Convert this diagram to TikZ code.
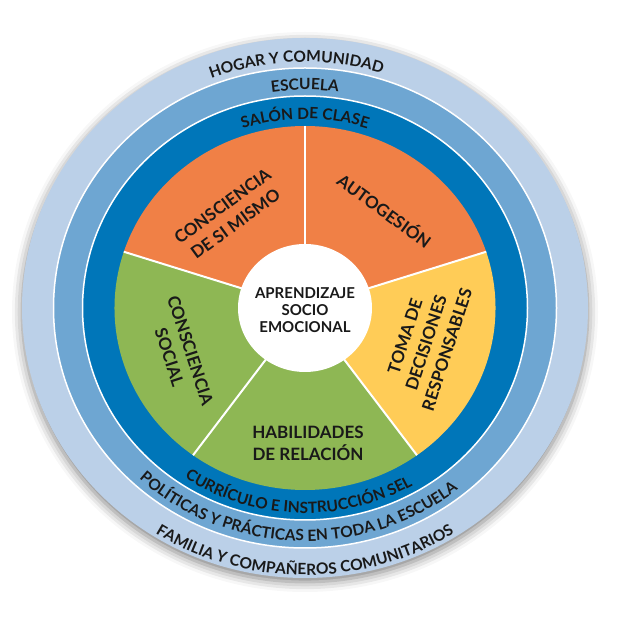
\documentclass[tikz,border=0pt]{standalone}
\usepackage{fontspec}
\setmainfont{Lato}
\usetikzlibrary{decorations.text,shadows.blur}
\definecolor{ringL}{RGB}{187,208,232}
\definecolor{ringM}{RGB}{110,166,210}
\definecolor{ringD}{RGB}{0,118,185}
\definecolor{secO}{RGB}{240,128,70}
\definecolor{secG}{RGB}{142,183,84}
\definecolor{secY}{RGB}{255,204,87}
\definecolor{txt}{RGB}{25,25,25}
\newcommand{\ringfont}{\color{txt}\bfseries\fontsize{15.5}{18}\selectfont}
\tikzset{
  seclabel/.style={align=center, text=txt, font=\bfseries\fontsize{17}{22}\selectfont, inner sep=0pt},
  sepline/.style={white, line width=2pt},
  ringtext/.style={decorate, decoration={text along path, text align=center, text={#1}}}
}
\begin{document}
\begin{tikzpicture}[x=1pt,y=1pt]
\useasboundingbox (0,0) rectangle (627,627);
\coordinate (C) at (305,319);
% rings
\fill[ringL, blur shadow={shadow xshift=0pt, shadow yshift=-4pt, shadow blur radius=10pt, shadow opacity=50}] (C) ellipse [x radius=283, y radius=270];
\filldraw[fill=ringM, draw=white, line width=1.5pt] (C) ellipse [x radius=251.5, y radius=240];
\filldraw[fill=ringD, draw=white, line width=1.5pt] (C) ellipse [x radius=222.5, y radius=212];
% sectors
\foreach \a/\b/\c in {90/162/secO, 18/90/secO, -54/18/secY, -126/-54/secG, 162/234/secG}
  \fill[\c, shift={(C)}] (0,0) -- (\a:190.5 and 182) arc[start angle=\a, end angle=\b, x radius=190.5, y radius=182] -- cycle;
\foreach \a in {90,18,-54,-126,162}
  \draw[sepline, shift={(C)}] (0,0) -- (\a:190.5 and 182);
\fill[white] (C) ellipse [x radius=67, y radius=64];
% ring texts (top)
\path[shift={(C)}, ringtext={|\ringfont|HOGAR Y COMUNIDAD}] (152:258 and 246) arc[start angle=152, end angle=32, x radius=258, y radius=246];
\path[shift={(C)}, ringtext={|\ringfont|ESCUELA}] (150:228 and 218) arc[start angle=150, end angle=30, x radius=228, y radius=218];
\path[shift={(C)}, ringtext={|\ringfont|SALÓN DE CLASE}] (150:198 and 189) arc[start angle=150, end angle=30, x radius=198, y radius=189];
% ring texts (bottom)
\path[shift={(C)}, ringtext={|\ringfont|CURRÍCULO E INSTRUCCIÓN SEL}] (208:215 and 205) arc[start angle=208, end angle=328, x radius=215, y radius=205];
\path[shift={(C)}, ringtext={|\ringfont|POLÍTICAS Y PRÁCTICAS EN TODA LA ESCUELA}] (208:244 and 233) arc[start angle=208, end angle=328, x radius=244, y radius=233];
\path[shift={(C)}, ringtext={|\ringfont|FAMILIA Y COMPAÑEROS COMUNITARIOS}] (210:279 and 267) arc[start angle=210, end angle=330, x radius=279, y radius=267];
% sector labels
\node[seclabel, rotate=36] (csm) at (229,412) {CONSCIENCIA\\DE SI MISMO};
\node[seclabel, rotate=-36] (auto) at (385,417) {AUTOGESIÓN};
\node[seclabel, rotate=72] (toma) at (426,284) {TOMA DE\\DECISIONES\\RESPONSABLES};
\node[seclabel, rotate=-72] (csoc) at (180,273) {CONSCIENCIA\\SOCIAL};
\node[seclabel] (hab) at (308,184) {HABILIDADES\\DE RELACIÓN};
\node[align=center, text=txt, font=\bfseries\fontsize{15}{17}\selectfont, inner sep=0pt] (ctr) at (305,317) {APRENDIZAJE\\SOCIO\\EMOCIONAL};
\end{tikzpicture}
\end{document}
